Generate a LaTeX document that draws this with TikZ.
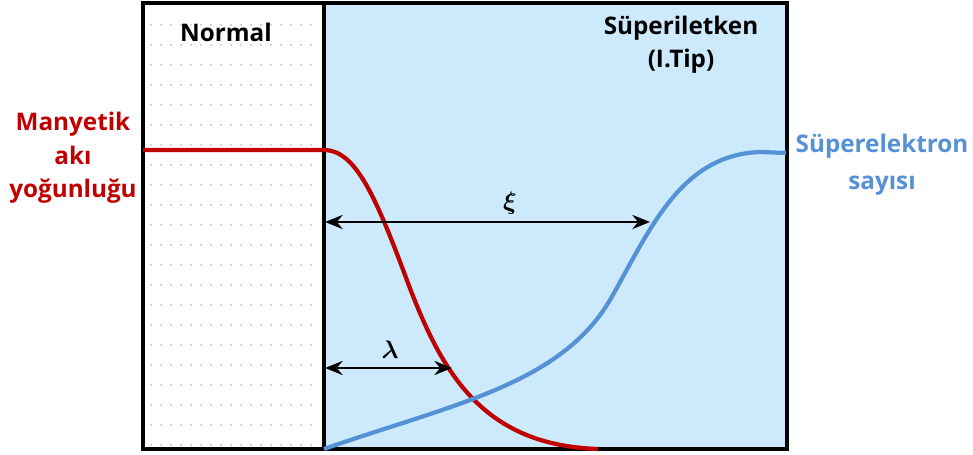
\documentclass[tikz,border=0pt]{standalone}
\usepackage{fontspec}
\usepackage{amsmath}
\setmainfont{Open Sans}
\usetikzlibrary{arrows.meta}
\definecolor{supblue}{RGB}{204,234,252}
\definecolor{fluxred}{RGB}{192,0,0}
\definecolor{elecblue}{RGB}{86,145,214}
\definecolor{dotgray}{RGB}{190,190,190}
\tikzset{
  lbl/.style={font=\bfseries\fontsize{13.8}{19}\selectfont, align=center, inner sep=0pt},
  curve/.style={line width=2.4pt},
  dimarrow/.style={line width=1.6pt, {Stealth[length=10pt,width=8pt]}-{Stealth[length=10pt,width=8pt]}},
  frame/.style={line width=1.8pt},
  greek/.style={font=\fontsize{15}{17}\selectfont}
}
\begin{document}
\begin{tikzpicture}[x=0.02cm,y=-0.02cm]
\useasboundingbox (0,0) rectangle (973,455);
% regions
\fill[white] (143,3) rectangle (324,449);
\fill[supblue] (324,3) rectangle (787,449);
\foreach \yy in {25,45,...,445} {
  \foreach \xx in {151,161,...,319} {
    \fill[dotgray] (\xx,\yy) circle (1.0);
  }
}
% frame
\draw[frame] (143,3) rectangle (787,449);
\draw[frame] (324,3) -- (324,449);
% labels
\node[lbl] (normal) at (226,32) {Normal};
\node[lbl] (sup) at (681,45) {Süperiletken\\(I.Tip)};
\node[lbl, text=fluxred] (flux) at (73,158) {Manyetik\\akı\\yoğunluğu};
\node[lbl, text=elecblue, font=\bfseries\fontsize{13.8}{21}\selectfont] (elec) at (882,165) {Süperelektron\\sayısı};
% curves
\coordinate (redstart) at (143,150);
\coordinate (redknee) at (324,150);
\coordinate (redmid) at (405,275);
\coordinate (redend) at (598,449);
\draw[curve, fluxred] (redstart) -- (redknee) .. controls (355,150) and (375,195) .. (redmid) .. controls (440,370) and (480,445) .. (redend);
\coordinate (bluestart) at (324,449);
\coordinate (bluemid) at (610,300);
\coordinate (bluetop) at (760,152);
\coordinate (blueend) at (786,153);
\draw[curve, elecblue] (bluestart) .. controls (450,405) and (560,385) .. (bluemid) .. controls (650,230) and (680,155) .. (bluetop) -- (blueend);
% dimension arrows
\coordinate (xiL) at (325,222);
\coordinate (xiR) at (650,222);
\coordinate (laL) at (325,368);
\coordinate (laR) at (452,368);
\draw[dimarrow] (xiL) -- (xiR);
\draw[dimarrow] (laL) -- (laR);
\node[greek] (xi) at (510,203) {$\boldsymbol{\xi}$};
\node[greek] (lam) at (390,350) {$\boldsymbol{\lambda}$};
\end{tikzpicture}
\end{document}
